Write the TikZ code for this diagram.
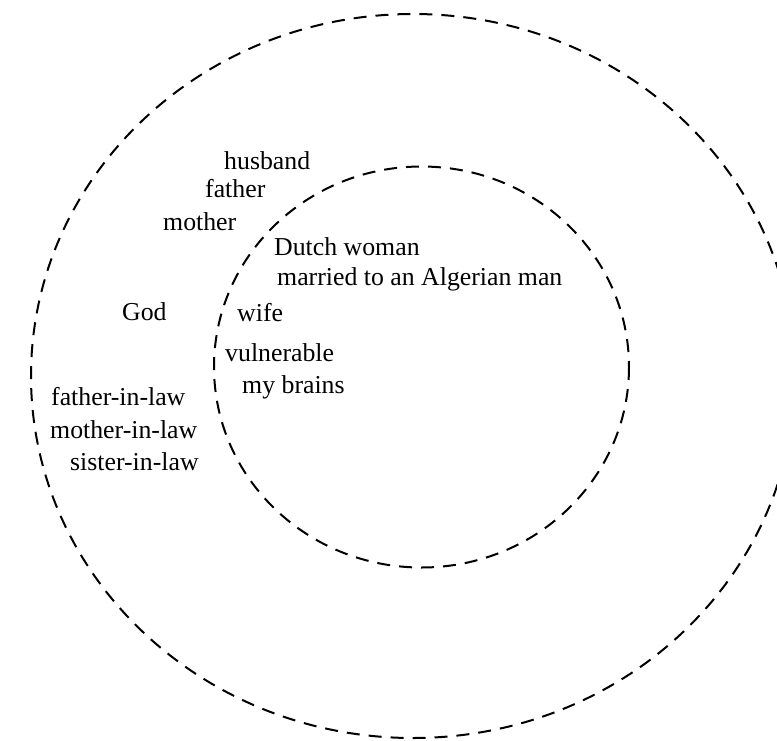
\documentclass[tikz,border=0pt]{standalone}
\usepackage{fontspec}
\setmainfont{Liberation Serif}
\begin{document}
\begin{tikzpicture}[x=1pt,y=-1pt,
  ring/.style={draw=black, line width=2pt, dash pattern=on 13pt off 9pt},
  word/.style={inner sep=0pt, anchor=base west, font=\fontsize{25.8}{30}\selectfont}]
\useasboundingbox (0,0) rectangle (777,740);
\clip (0,0) rectangle (777,740);

% outer and inner circles
\draw[ring] (413,376) ellipse [x radius=382, y radius=362];
\draw[ring] (421.5,367) ellipse [x radius=207.5, y radius=200.5];

% outer ring labels
\node[word] (husband) at (224,169) {husband};
\node[word] (father)  at (205,197) {father};
\node[word] (mother)  at (163,230) {mother};
\node[word] (god)     at (122,320) {God};
\node[word] (fil)     at (51,405) {father-in-law};
\node[word] (mil)     at (50,438) {mother-in-law};
\node[word] (sil)     at (70,470) {sister-in-law};

% inner circle labels
\node[word] (dutch)   at (274,255) {Dutch woman};
\node[word] (married) at (277,285) {married to an Algerian man};
\node[word] (wife)    at (237,321) {wife};
\node[word] (vuln)    at (225,361) {vulnerable};
\node[word] (brains)  at (242,393) {my brains};
\end{tikzpicture}
\end{document}
